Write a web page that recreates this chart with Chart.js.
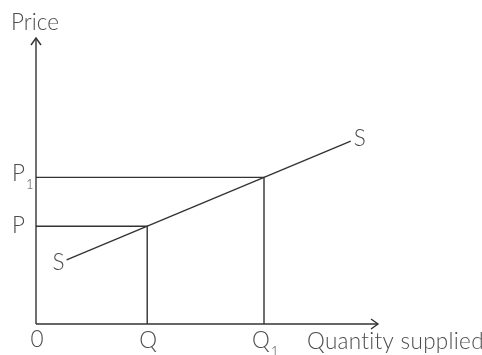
<!DOCTYPE html>
<html>
<head>
<meta charset="utf-8">
<script src="https://cdn.jsdelivr.net/npm/chart.js@4.4.1/dist/chart.umd.min.js"></script>
<style>
  html, body { margin: 0; padding: 0; background: #ffffff; }
  #wrap { width: 482px; height: 355px; position: relative; }
</style>
</head>
<body>
<div id="wrap"><canvas id="chart"></canvas></div>
<script>
// Price levels P and P1, quantity levels Q and Q1 (arbitrary units)
const priceLevels = [2, 3];
const priceLabels = ['P', 'P1'];
const quantityLevels = [2, 4.1];
const quantityLabels = ['Q', 'Q1'];
// Supply curve end points
const supplyX = [0.55, 5.66];
const supplyY = [1.31, 3.74];
// Axis extents
const xMax = 6.15;
const yMax = 5.85;

const lineColor = '#333333';
const textColor = '#4d4d4d';
const fontFamily = 'Lato, "Open Sans", sans-serif';

function seg(points) {
  return {
    data: points,
    showLine: true,
    borderColor: lineColor,
    borderWidth: 1.4,
    pointRadius: 0,
    pointHoverRadius: 0,
    fill: false,
    clip: false,
    tension: 0
  };
}

const datasets = [
  seg([{x: 0, y: 0}, {x: xMax, y: 0}]),
  seg([{x: 0, y: 0}, {x: 0, y: yMax}]),
  seg(supplyX.map((x, i) => ({x: x, y: supplyY[i]})))
];
priceLevels.forEach((p, i) => {
  const q = quantityLevels[i];
  datasets.push(seg([{x: 0, y: p}, {x: q, y: p}, {x: q, y: 0}]));
});

// Draws arrowheads and all text labels from the scale positions
const annotations = {
  id: 'annotations',
  afterDatasetsDraw(chart) {
    const ctx = chart.ctx;
    const xs = chart.scales.x, ys = chart.scales.y;
    const ox = xs.getPixelForValue(0), oy = ys.getPixelForValue(0);
    const topY = ys.getPixelForValue(yMax);
    const rightX = xs.getPixelForValue(xMax);

    ctx.save();
    ctx.strokeStyle = lineColor;
    ctx.lineWidth = 1.4;
    // y-axis arrow
    ctx.beginPath();
    ctx.moveTo(ox - 5, topY + 7);
    ctx.lineTo(ox, topY);
    ctx.lineTo(ox + 5, topY + 7);
    ctx.stroke();
    // x-axis arrow
    ctx.beginPath();
    ctx.moveTo(rightX - 7, oy - 5);
    ctx.lineTo(rightX, oy);
    ctx.lineTo(rightX - 7, oy + 5);
    ctx.stroke();

    ctx.fillStyle = textColor;
    ctx.textBaseline = 'alphabetic';
    const big = '300 22.5px ' + fontFamily;
    const small = '300 13px ' + fontFamily;

    // main letter placed with its left edge at `left`, subscript after it
    function labelWithSub(text, left, baseline) {
      const main = text.charAt(0);
      const sub = text.slice(1);
      ctx.font = big;
      ctx.textAlign = 'left';
      const w = ctx.measureText(main).width;
      ctx.fillText(main, left, baseline);
      if (sub) {
        ctx.font = small;
        ctx.fillText(sub, left + w + 1, baseline + 8);
      }
      return w;
    }
    function mainWidth(text) {
      ctx.font = big;
      return ctx.measureText(text.charAt(0)).width;
    }

    // Axis titles
    ctx.font = big;
    ctx.textAlign = 'center';
    ctx.fillText('Price', ox - 1, topY - 8);
    ctx.textAlign = 'left';
    // slight tracking keeps "ti" as separate letters
    if ('letterSpacing' in ctx) ctx.letterSpacing = '0.3px';
    ctx.fillText('Quantity supplied', rightX - 71, oy + 25);
    if ('letterSpacing' in ctx) ctx.letterSpacing = '0px';

    // Origin
    ctx.textAlign = 'center';
    ctx.fillText('0', ox + 1, oy + 23);

    // Price levels, right-aligned against the axis
    priceLevels.forEach((p, i) => {
      const label = priceLabels[i];
      const py = ys.getPixelForValue(p);
      const w = mainWidth(label);
      const baseline = label.length > 1 ? py + 3.5 : py + 7;
      labelWithSub(label, ox - 11 - w, baseline);
    });
    // Quantity levels, centred under their guide lines
    quantityLevels.forEach((q, i) => {
      const label = quantityLabels[i];
      const qx = xs.getPixelForValue(q);
      const w = mainWidth(label);
      const shift = label.length > 1 ? -3 : 1;
      labelWithSub(label, qx - w / 2 + shift, oy + 23.5);
    });

    // Supply curve labels
    ctx.font = big;
    ctx.textAlign = 'center';
    ctx.fillText('S', xs.getPixelForValue(supplyX[0]) - 8, ys.getPixelForValue(supplyY[0]) + 10);
    ctx.fillText('S', xs.getPixelForValue(supplyX[1]) + 9, ys.getPixelForValue(supplyY[1]) + 5);
    ctx.restore();
  }
};

new Chart(document.getElementById('chart'), {
  type: 'scatter',
  data: { datasets: datasets },
  options: {
    responsive: true,
    maintainAspectRatio: false,
    animation: false,
    events: [],
    layout: { padding: { left: 36, right: 104, top: 38, bottom: 31 } },
    plugins: { legend: { display: false }, tooltip: { enabled: false } },
    scales: {
      x: { type: 'linear', min: 0, max: xMax, display: false },
      y: { type: 'linear', min: 0, max: yMax, display: false }
    }
  },
  plugins: [annotations]
});
</script>
</body>
</html>
